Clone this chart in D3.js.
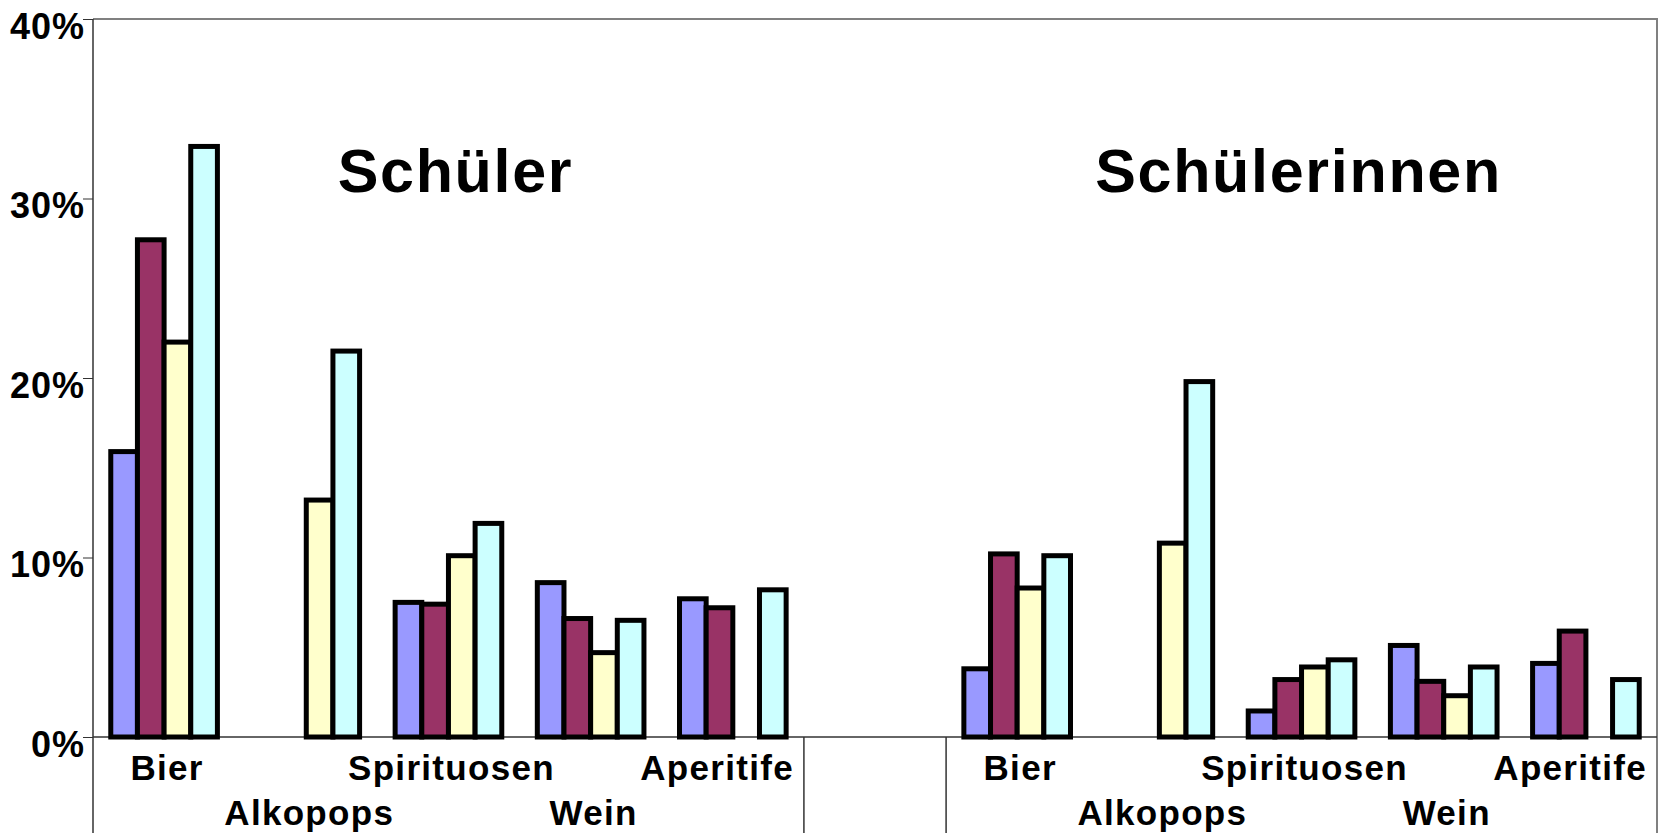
<!DOCTYPE html>
<html>
<head>
<meta charset="utf-8">
<script src="https://cdn.jsdelivr.net/npm/d3@7"></script>
<style>
  body { margin: 0; background: #fff; }
  svg { display: block; font-family: "Liberation Sans", Arial, sans-serif; font-weight: bold; }
</style>
</head>
<body>
<div id="chart"></div>
<script>
// data
var groups = ['Schüler', 'Schülerinnen'];
var drinks = ['Bier', 'Alkopops', 'Spirituosen', 'Wein', 'Aperitife'];
var seriesNames = ['s1', 's2', 's3', 's4'];
var seriesColors = ['#9999FF', '#993366', '#FFFFCC', '#CCFFFF'];
var yTicks = [0, 0.1, 0.2, 0.3, 0.4];

// one array per series, in drink order (null = no bar)
var schueler = [
  [0.159, null, 0.075, 0.086, 0.077],
  [0.277, null, 0.074, 0.066, 0.072],
  [0.220, 0.132, 0.101, 0.047, null],
  [0.329, 0.215, 0.119, 0.065, 0.082]
];
var schuelerinnen = [
  [0.038, null, 0.0145, 0.051, 0.041],
  [0.102, null, 0.032, 0.031, 0.059],
  [0.083, 0.108, 0.039, 0.023, null],
  [0.101, 0.198, 0.043, 0.039, 0.032]
];
var groupValues = [schueler, schuelerinnen];

var W = 1664, H = 833;
var plotLeft = 93, plotRight = 1657, plotTop = 19, plotBase = 737;

var svg = d3.select('#chart').append('svg')
  .attr('width', W).attr('height', H);

// category slots: 5 drinks, an empty slot, 5 drinks
var slots = [];
groups.forEach(function(g, gi) {
  if (gi > 0) slots.push('gap');
  drinks.forEach(function(d) { slots.push(g + '|' + d); });
});

var x = d3.scaleBand().domain(slots).range([plotLeft, plotRight]).padding(0);
var bw = x.bandwidth();
var x1 = d3.scaleBand().domain(seriesNames).range([bw * 0.125, bw * 0.875]).padding(0);
var y = d3.scaleLinear().domain([0, 0.4]).range([plotBase, plotTop]);

// plot frame (top + right, grey)
svg.append('path')
  .attr('d', 'M' + plotLeft + ',' + plotTop + 'H' + plotRight + 'V' + H)
  .attr('fill', 'none').attr('stroke', '#808080').attr('stroke-width', 2);

// y axis
var yAxis = d3.axisLeft(y).tickValues(yTicks).tickFormat(d3.format('.0%'))
  .tickSize(10).tickSizeOuter(0).tickPadding(0);
var ga = svg.append('g').attr('transform', 'translate(' + plotLeft + ',0)').call(yAxis);
ga.select('.domain').remove();
ga.selectAll('line').attr('stroke', '#333');
ga.selectAll('text')
  .attr('x', -8).attr('dy', '0.53em')
  .style('font-size', '36px').style('font-weight', 'bold').style('letter-spacing', '1px')
  .attr('fill', '#000');

// y axis line goes down through the label area
svg.append('line')
  .attr('x1', plotLeft).attr('x2', plotLeft).attr('y1', plotTop).attr('y2', H)
  .attr('stroke', '#333').attr('stroke-width', 1.5);

// category axis line
svg.append('line')
  .attr('x1', plotLeft).attr('x2', plotRight).attr('y1', plotBase).attr('y2', plotBase)
  .attr('stroke', '#333').attr('stroke-width', 1.5);

// separators under the axis between groups
var seps = [x(groups[0] + '|' + drinks[drinks.length - 1]) + bw, x(groups[1] + '|' + drinks[0])];
seps.forEach(function(sx) {
  svg.append('line')
    .attr('x1', sx).attr('x2', sx).attr('y1', plotBase).attr('y2', H)
    .attr('stroke', '#333').attr('stroke-width', 1.5);
});

// bars
var bars = [];
groups.forEach(function(g, gi) {
  groupValues[gi].forEach(function(vals, si) {
    vals.forEach(function(v, di) {
      if (v != null) bars.push({ slot: g + '|' + drinks[di], s: seriesNames[si], si: si, v: v });
    });
  });
});

svg.append('g').selectAll('rect').data(bars).join('rect')
  .attr('x', function(d) { return x(d.slot) + x1(d.s); })
  .attr('width', x1.bandwidth())
  .attr('y', function(d) { return y(d.v); })
  .attr('height', function(d) { return y(0) - y(d.v); })
  .attr('fill', function(d) { return seriesColors[d.si]; })
  .attr('stroke', '#000').attr('stroke-width', 5);

// category labels, staggered on two rows
groups.forEach(function(g, gi) {
  var groupRight = x(g + '|' + drinks[drinks.length - 1]) + bw;
  drinks.forEach(function(d, di) {
    var cx = x(g + '|' + d) + bw / 2 + 3;
    var t = svg.append('text')
      .attr('y', plotBase + (di % 2 === 0 ? 43 : 88))
      .attr('text-anchor', 'middle')
      .style('font-size', '35px')
      .style('letter-spacing', '1.3px')
      .text(d);
    var w = t.node().getComputedTextLength();
    if (cx + w / 2 > groupRight - 10) cx = groupRight - 10 - w / 2;
    t.attr('x', cx);
  });
});

// group titles inside the plot
groups.forEach(function(g, gi) {
  var x0 = x(g + '|' + drinks[0]);
  var xe = x(g + '|' + drinks[drinks.length - 1]) + bw;
  svg.append('text')
    .attr('x', (x0 + xe) / 2 + (gi === 0 ? 7 : -3))
    .attr('y', 192)
    .attr('text-anchor', 'middle')
    .style('font-size', '61px')
    .style('letter-spacing', '1.7px')
    .text(g);
});
</script>
</body>
</html>
